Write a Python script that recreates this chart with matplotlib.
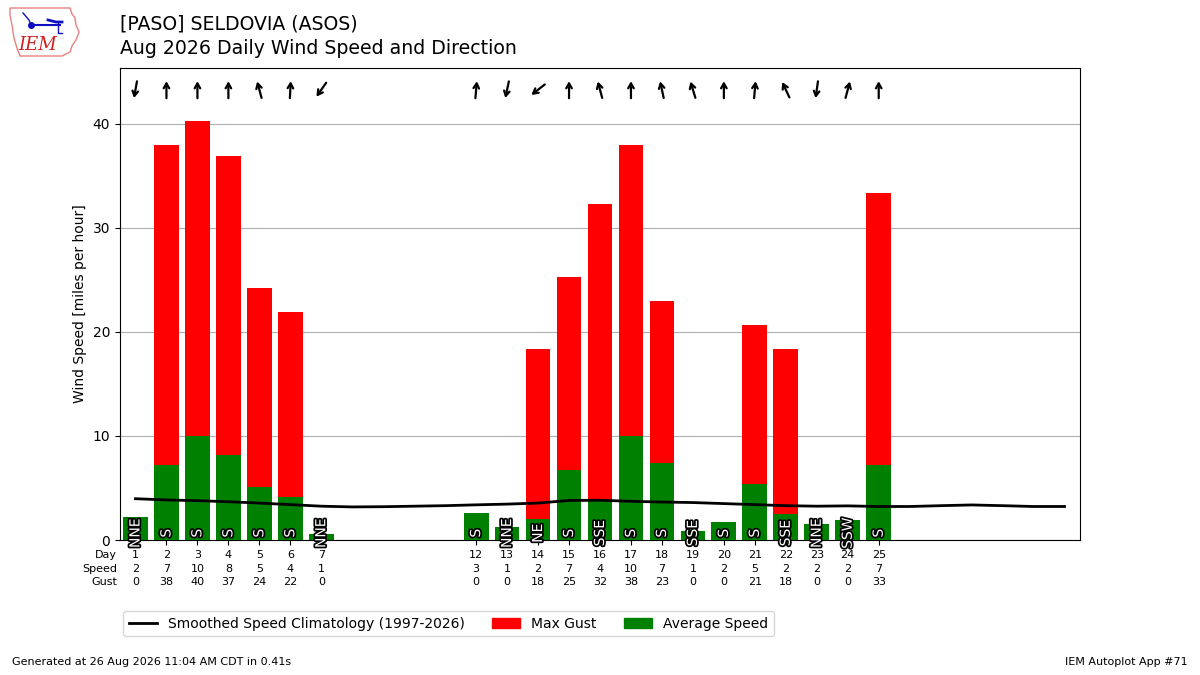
import matplotlib
matplotlib.use("Agg")
import numpy as np
import matplotlib.pyplot as plt
import matplotlib.patheffects as PathEffects
from matplotlib.patches import Patch, Polygon
from matplotlib.lines import Line2D
import matplotlib.transforms as mtransforms

# daily observations (days with data only)
days = [1, 2, 3, 4, 5, 6, 7, 12, 13, 14, 15, 16, 17, 18, 19, 20, 21, 22, 23, 24, 25]
avg_speed = [2.2, 7.2, 10.0, 8.2, 5.1, 4.1, 0.6, 2.6, 1.25, 2.0, 6.7, 3.8, 10.0,
             7.4, 0.9, 1.7, 5.4, 2.5, 1.5, 1.9, 7.2]
max_gust = [0, 38.0, 40.3, 36.9, 24.2, 21.9, 0, 0, 0, 18.4, 25.3, 32.3, 38.0,
            23.0, 0, 0, 20.7, 18.4, 0, 0, 33.4]
wind_dir = [10, 180, 180, 180, 165, 183, 35, 185, 12, 52, 180, 165, 180,
            168, 163, 180, 185, 155, 8, 195, 180]
dir_text = ["NNE", "S", "S", "S", "S", "S", "NNE", "S", "NNE", "NE", "S", "SSE",
            "S", "S", "SSE", "S", "S", "SSE", "NNE", "SSW", "S"]

# smoothed climatology, day 1..31
clim_days = list(range(1, 32))
clim_speed = [3.97, 3.85, 3.78, 3.68, 3.55, 3.4, 3.25, 3.18, 3.2, 3.25, 3.3,
              3.38, 3.45, 3.55, 3.8, 3.82, 3.72, 3.65, 3.6, 3.5, 3.4, 3.3,
              3.25, 3.28, 3.22, 3.22, 3.3, 3.37, 3.3, 3.22, 3.22]

fig = plt.figure(figsize=(12, 6.75), dpi=100)

# rough logo, drawn in figure pixel space
lax = fig.add_axes([0, 0, 1, 1], zorder=-1)
lax.set_xlim(0, 1200)
lax.set_ylim(675, 0)
lax.axis("off")
outline = [(10, 8), (70, 8), (72, 14), (75, 18), (76, 25), (79, 32), (76, 40),
           (72, 46), (70, 52), (62, 56), (20, 56), (17, 48), (14, 38), (12, 25),
           (10, 15)]
lax.add_patch(Polygon(outline, closed=True, fill=False, ec="#e88080", lw=1))
lax.plot([31, 60], [25, 25], color="#1010c0", lw=1.5)
lax.plot([31], [25], "o", color="#1010c0", ms=4)
lax.plot([23, 29, 31], [13, 20, 25], color="#1010c0", lw=1)
lax.plot([48, 56, 62], [20, 22, 22], color="#1010c0", lw=2)
lax.plot([58, 58, 62], [22, 33, 33], color="#1010c0", lw=1)
lax.text(38, 45, "IEM", color="#d02020", fontsize=13, style="italic",
         family="serif", ha="center", va="center")

ax = fig.add_axes([0.1, 0.2, 0.8, 0.7])

ax.bar(days, max_gust, width=0.8, color="r", zorder=2)
ax.bar(days, avg_speed, width=0.8, color="g", zorder=3)
ax.plot(clim_days, clim_speed, color="k", lw=2, zorder=4)

ax.set_xlim(0.5, 31.5)
ax.set_ylim(0, max(max_gust) * 1.127)
ax.yaxis.grid(True, color="#b0b0b0", zorder=0)
ax.set_axisbelow(True)
ax.set_ylabel("Wind Speed [miles per hour]", fontsize=10)

# direction text inside bars
for d, txt in zip(days, dir_text):
    t = ax.text(d, 0.65, txt, rotation=90, ha="center", va="center",
                color="white", fontsize=10, zorder=5)
    t.set_path_effects([PathEffects.withStroke(linewidth=2.5, foreground="k")])

# arrows along the top, pointing where the wind blows to
trans = mtransforms.blended_transform_factory(ax.transData, ax.transAxes)
half = 8.5  # pixels
for d, wd in zip(days, wind_dir):
    toward = np.radians(wd + 180)
    dx, dy = np.sin(toward) * half, np.cos(toward) * half
    head = mtransforms.offset_copy(trans, fig=fig, x=dx, y=dy, units="dots")
    ax.annotate("", xy=(d, 0.953), xycoords=head,
                xytext=(-2 * dx * 0.72, -2 * dy * 0.72), textcoords="offset points",
                arrowprops=dict(arrowstyle="->,head_length=0.35,head_width=0.2",
                                lw=1.6, color="k", shrinkA=0, shrinkB=0))

labels = [f"{d}\n{round(s):.0f}\n{round(g):.0f}"
          for d, s, g in zip(days, avg_speed, max_gust)]
ax.set_xticks(days)
ax.set_xticklabels(labels, fontsize=8, linespacing=1.4)
ax.tick_params(axis="x", pad=4)
ax.text(-0.003, -0.022, "Day\nSpeed\nGust", transform=ax.transAxes,
        ha="right", va="top", fontsize=8, linespacing=1.4)

handles = [Line2D([], [], color="k", lw=2),
           Patch(color="r"), Patch(color="g")]
fig.legend(handles, ["Smoothed Speed Climatology (1997-2026)", "Max Gust",
                     "Average Speed"],
           loc="upper left", bbox_to_anchor=(0.097, 0.105), ncol=3, fontsize=10)

fig.text(0.1, 0.964, "[PASO] SELDOVIA (ASOS)", fontsize=13.6, va="center")
fig.text(0.1, 0.928, "Aug 2026 Daily Wind Speed and Direction", fontsize=13.6,
         va="center")
fig.text(0.01, 0.015, "Generated at 26 Aug 2026 11:04 AM CDT in 0.41s",
         fontsize=8)
fig.text(0.99, 0.015, "IEM Autoplot App #71", fontsize=8, ha="right")

fig.savefig("out.png", dpi=100)
